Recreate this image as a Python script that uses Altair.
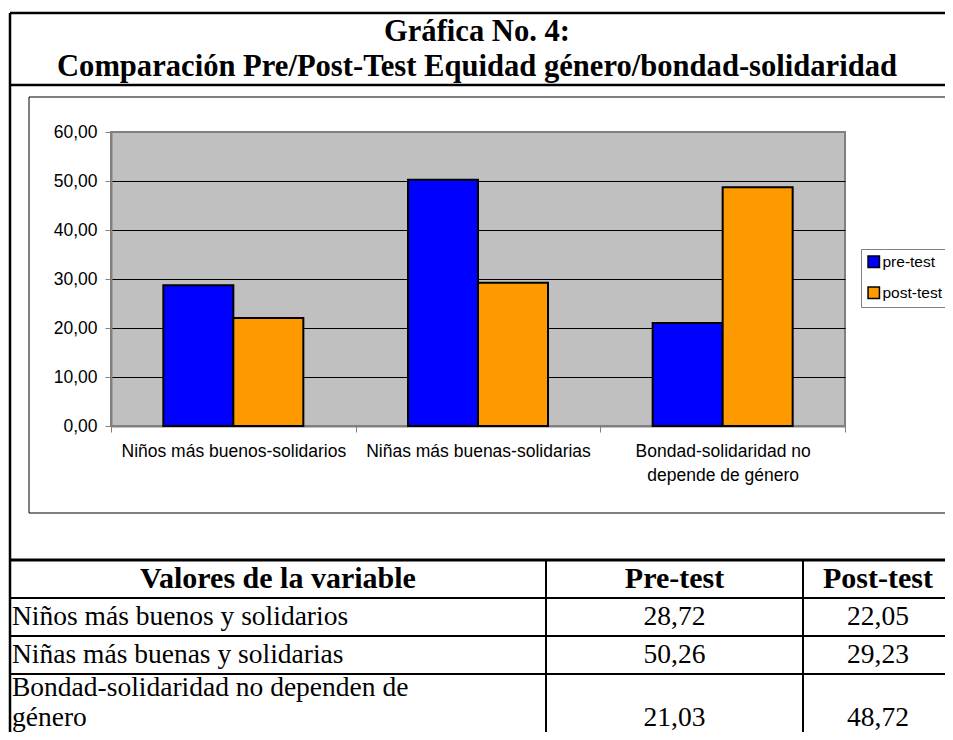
import json
import textwrap
import altair as alt
import pandas as pd

# ---------------- data ----------------
categories = ["Niños más buenos-solidarios", "Niñas más buenas-solidarias",
              "Bondad-solidaridad no depende de género"]
series = ["pre-test", "post-test"]
pre_test = [28.72, 50.26, 21.03]
post_test = [22.05, 29.23, 48.72]
y_ticks = [0, 10, 20, 30, 40, 50, 60]
title_lines = ["Gráfica No. 4:",
               "Comparación Pre/Post-Test Equidad género/bondad-solidaridad"]
table_header = ["Valores de la variable", "Pre-test", "Post-test"]
table_rows = ["Niños más buenos y solidarios", "Niñas más buenas y solidarias",
              "Bondad-solidaridad no dependen de género"]
series_colors = ["#0000FF", "#FF9900"]

# ---------------- layout (page pixels) ----------------
W, H = 734, 294          # plot area
OX, OY = 111, 132        # plot origin on page
PAGE = 8
SANS = "Liberation Sans"
SERIF = "Liberation Serif"
BODY_FS = 27.5


def px(x):
    return x - OX


def py(y):
    return y - OY


def fmt(v):
    return f"{v:.2f}".replace(".", ",")


# bars
bar_df = pd.DataFrame({
    "category": [c for c in categories for _ in series],
    "series": series * len(categories),
    "value": [v for pair in zip(pre_test, post_test) for v in pair],
})

# multi-line axis labels
expr = "datum.label"
for c in categories:
    parts = textwrap.wrap(c, 27)
    if len(parts) > 1:
        expr = f"datum.label == {json.dumps(c)} ? {json.dumps(parts)} : ({expr})"

# frame / table segments
HDR_TOP, ROW_H, BASE_OFF = 560, 38, 27
CELL_LH = 30
COLS = [10, 546, 803, 953]
RIGHT = 965
seg = [
    (10, 13, 10, 760, 2.5),
    (10, 13, RIGHT, 13, 2.5),
    (10, 85, RIGHT, 85, 2.5),
    (29, 97, RIGHT, 97, 1),
    (29, 513, RIGHT, 513, 1),
    (29, 97, 29, 513, 1),
    (10, HDR_TOP, RIGHT, HDR_TOP, 3),
]
for k in range(1, len(table_rows) + 1):
    yk = HDR_TOP + ROW_H * k
    seg.append((10, yk, RIGHT, yk, 2))
for xc in COLS[1:3]:
    seg.append((xc, HDR_TOP, xc, 760, 2))
seg_df = pd.DataFrame(seg, columns=["x", "y", "x2", "y2", "w"])
seg_df["x"] = seg_df["x"] - OX
seg_df["x2"] = seg_df["x2"] - OX
seg_df["y"] = seg_df["y"] - OY
seg_df["y2"] = seg_df["y2"] - OY

segments = alt.Chart(seg_df).mark_rule(color="black").encode(
    x=alt.X("x:Q", scale=None, axis=None),
    x2="x2:Q",
    y=alt.Y("y:Q", scale=None, axis=None),
    y2="y2:Q",
    strokeWidth=alt.StrokeWidth("w:Q", scale=None, legend=None),
)

title = alt.Chart(pd.DataFrame({"t": ["\n".join(title_lines)]})).mark_text(
    font=SERIF, fontSize=30.6, fontWeight="bold", align="center",
    baseline="alphabetic", lineBreak="\n", lineHeight=35, color="black",
).encode(x=alt.value(px(477)), y=alt.value(py(41)), text="t:N")

centers = [(COLS[0] + COLS[1]) / 2, (COLS[1] + COLS[2]) / 2, (COLS[2] + COLS[3]) / 2]
hdr_df = pd.DataFrame({"h": table_header, "hx": [px(c) for c in centers]})
header = alt.Chart(hdr_df).mark_text(
    font=SERIF, fontSize=30, fontWeight="bold", align="center",
    baseline="alphabetic", color="black",
).encode(x=alt.X("hx:Q", scale=None, axis=None),
         y=alt.value(py(HDR_TOP + BASE_OFF + 1)), text="h:N")

rows = []
for i, (lab, a, b) in enumerate(zip(table_rows, pre_test, post_test)):
    parts = textwrap.wrap(lab, 33)
    n = len(parts)
    top = HDR_TOP + ROW_H * (i + 1)
    first = top + BASE_OFF - (5 if n > 1 else 0)
    rows.append({"label": "\n".join(parts), "pre": fmt(a), "post": fmt(b),
                 "yl": py(first), "yn": py(first + CELL_LH * (n - 1))})
row_df = pd.DataFrame(rows)

row_labels = alt.Chart(row_df).mark_text(
    font=SERIF, fontSize=BODY_FS, align="left", baseline="alphabetic",
    lineBreak="\n", lineHeight=CELL_LH, color="black",
).encode(x=alt.value(px(12)), y=alt.Y("yl:Q", scale=None, axis=None), text="label:N")

row_pre = alt.Chart(row_df).mark_text(
    font=SERIF, fontSize=BODY_FS, align="center", baseline="alphabetic", color="black",
).encode(x=alt.value(px(centers[1])), y=alt.Y("yn:Q", scale=None, axis=None), text="pre:N")

row_post = alt.Chart(row_df).mark_text(
    font=SERIF, fontSize=BODY_FS, align="center", baseline="alphabetic", color="black",
).encode(x=alt.value(px(centers[2])), y=alt.Y("yn:Q", scale=None, axis=None), text="post:N")

bars = alt.Chart(bar_df).mark_bar(stroke="black", strokeWidth=2).encode(
    x=alt.X("category:N", sort=categories,
            scale=alt.Scale(domain=categories, paddingInner=0, paddingOuter=0),
            axis=alt.Axis(title=None, labelAngle=0, tickBand="extent", labelExpr=expr,
                          labelFont=SANS, labelFontSize=17.5, labelColor="black",
                          labelLimit=0, labelPadding=10, labelLineHeight=24,
                          tickSize=6, tickColor="#808080", domainColor="#808080",
                          domainWidth=2, grid=False, labelOverlap=False)),
    xOffset=alt.XOffset("series:N", sort=series,
                        scale=alt.Scale(domain=series, paddingInner=0, paddingOuter=0.7476)),
    y=alt.Y("value:Q", scale=alt.Scale(domain=[0, 60], nice=False),
            axis=alt.Axis(values=y_ticks, title=None,
                          labelExpr="replace(format(datum.value, '.2f'), '.', ',')",
                          labelFont=SANS, labelFontSize=17.5, labelColor="black",
                          labelPadding=8, tickSize=6, tickColor="#808080",
                          domainColor="#808080", domainWidth=2, grid=True,
                          gridColor={"condition": {"test": "datum.value == 0 || datum.value == 60",
                                                   "value": "#808080"},
                                     "value": "black"},
                          gridWidth=1)),
    color=alt.Color("series:N", sort=series,
                    scale=alt.Scale(domain=series, range=series_colors),
                    legend=alt.Legend(orient="none", legendX=px(861), legendY=py(249),
                                      title=None, strokeColor="#808080", fillColor="white",
                                      padding=5, symbolType="square", symbolSize=130,
                                      symbolStrokeColor="black", symbolStrokeWidth=1.5,
                                      labelFont=SANS, labelFontSize=15.5, labelColor="black",
                                      rowPadding=13, labelOffset=1)),
)

total_w = 953 - 2 * PAGE
total_h = 740 - 2 * PAGE
pad = {"left": OX - PAGE, "top": OY - PAGE,
       "right": total_w - (OX - PAGE) - W, "bottom": total_h - (OY - PAGE) - H}

chart = alt.layer(segments, title, header, row_labels, row_pre, row_post, bars).properties(
    width=W, height=H, autosize=alt.AutoSizeParams(type="none"), padding=pad,
    background="white",
).configure_view(fill="#C0C0C0", stroke="#808080", strokeWidth=2)

chart.save("out.html", embed_options={"renderer": "svg", "actions": False})
